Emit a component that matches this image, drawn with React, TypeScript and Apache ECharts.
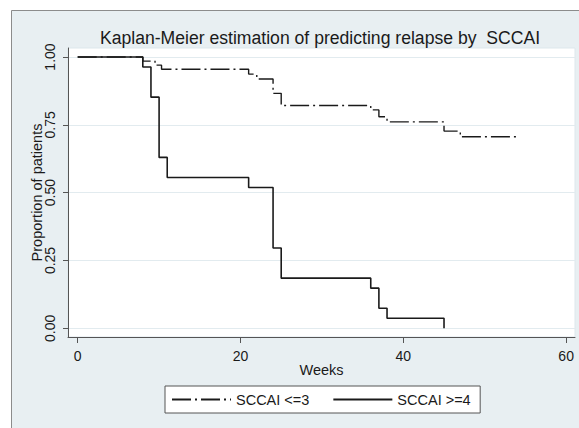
import React, { useEffect, useRef } from "react";
import * as echarts from "echarts";

const FONT = "'Liberation Sans', Arial, Helvetica, sans-serif";

const seriesNames = ["SCCAI <=3", "SCCAI >=4"];

// SCCAI <=3 (dash-dot): weeks at which the curve steps, and proportion after the step
const lowWeeks = [0, 8, 9.5, 10.3, 21, 22, 24, 25, 36, 37, 38, 45, 47, 54];
const lowSurvival = [1, 0.985, 0.97, 0.955, 0.937, 0.919, 0.866, 0.821, 0.805, 0.78, 0.761, 0.727, 0.706, 0.706];

// SCCAI >=4 (solid)
const highWeeks = [0, 8, 9, 10, 11, 21, 24, 25, 36, 37, 38, 45];
const highSurvival = [1, 0.963, 0.852, 0.63, 0.556, 0.519, 0.296, 0.185, 0.148, 0.074, 0.037, 0];

const xTicks = [0, 20, 40, 60];
const yTicks = [0, 0.25, 0.5, 0.75, 1];

const INK = "#1a1a1a";
const AXIS = "#555";

export default function App() {
  const ref = useRef<HTMLDivElement>(null);

  useEffect(() => {
    if (!ref.current) return;
    const chart = echarts.init(ref.current, null, { renderer: "svg" });
    chart.setOption({
      animation: false,
      backgroundColor: "#ffffff",
      graphic: [
        {
          type: "rect",
          z: -100,
          silent: true,
          shape: { x: 11.5, y: 10.5, width: 620, height: 500 },
          style: { fill: "#e8eff2", stroke: "#8c8c8c", lineWidth: 1 },
        },
      ],
      title: {
        text: "Kaplan-Meier estimation of predicting relapse by  SCCAI",
        left: 320,
        top: 28.5,
        padding: 0,
        textAlign: "center",
        textStyle: { fontFamily: FONT, fontSize: 17.6, fontWeight: "normal", color: INK },
      },
      legend: {
        data: seriesNames,
        left: 165,
        top: 386,
        orient: "horizontal",
        itemWidth: 59,
        itemHeight: 14,
        itemGap: 23,
        padding: [6, 9.5, 6, 6],
        backgroundColor: "#ffffff",
        borderColor: "#555",
        borderWidth: 1,
        borderRadius: 0,
        selectedMode: false,
        itemStyle: { opacity: 0 },
        textStyle: { fontFamily: FONT, fontSize: 14.5, color: INK },
      },
      grid: {
        left: 68,
        top: 48,
        width: 507,
        height: 289,
        show: true,
        backgroundColor: "#ffffff",
        borderColor: "#dde7ec",
        borderWidth: 1,
        containLabel: false,
        outerBoundsMode: "none",
      },
      xAxis: {
        type: "value",
        min: -1.19,
        max: 61.09,
        name: "Weeks",
        nameLocation: "middle",
        nameGap: 25,
        nameMoveOverlap: false,
        nameTextStyle: { fontFamily: FONT, fontSize: 14.5, color: INK },
        axisLine: { show: true, onZero: false, lineStyle: { color: AXIS, width: 1 } },
        axisTick: { show: true, length: 6, customValues: xTicks, lineStyle: { color: AXIS, width: 1 } },
        axisLabel: { customValues: xTicks, margin: 11.5, fontFamily: FONT, fontSize: 14, color: INK },
        splitLine: { show: false },
      },
      yAxis: {
        type: "value",
        min: -0.032,
        max: 1.0332,
        name: "Proportion of patients",
        nameLocation: "middle",
        nameRotate: 90,
        nameGap: 24,
        nameMoveOverlap: false,
        nameTextStyle: { fontFamily: FONT, fontSize: 14.5, color: INK },
        axisLine: { show: true, onZero: false, lineStyle: { color: AXIS, width: 1 } },
        axisTick: { show: true, length: 5, customValues: yTicks, lineStyle: { color: AXIS, width: 1 } },
        axisLabel: {
          customValues: yTicks,
          rotate: 90,
          margin: 11,
          fontFamily: FONT,
          fontSize: 14,
          color: INK,
          formatter: (v: number) => Number(v).toFixed(2),
        },
        splitLine: { show: true, lineStyle: { color: "#e2ebef", width: 1 } },
      },
      series: [
        {
          name: seriesNames[0],
          type: "line",
          step: "end",
          symbol: "none",
          data: lowWeeks.map((w, i) => [w, lowSurvival[i]]),
          lineStyle: { color: INK, width: 1.4, type: [19, 4, 2, 4] },
          itemStyle: { color: INK },
          z: 2,
        },
        {
          name: seriesNames[1],
          type: "line",
          step: "end",
          symbol: "none",
          data: highWeeks.map((w, i) => [w, highSurvival[i]]),
          lineStyle: { color: INK, width: 1.6, type: "solid" },
          itemStyle: { color: INK },
          z: 3,
        },
      ],
    });
    return () => chart.dispose();
  }, []);

  return (
    <div
      ref={ref}
      style={{ position: "fixed", left: 0, top: 0, width: 579, height: 428, background: "#fff" }}
    />
  );
}
